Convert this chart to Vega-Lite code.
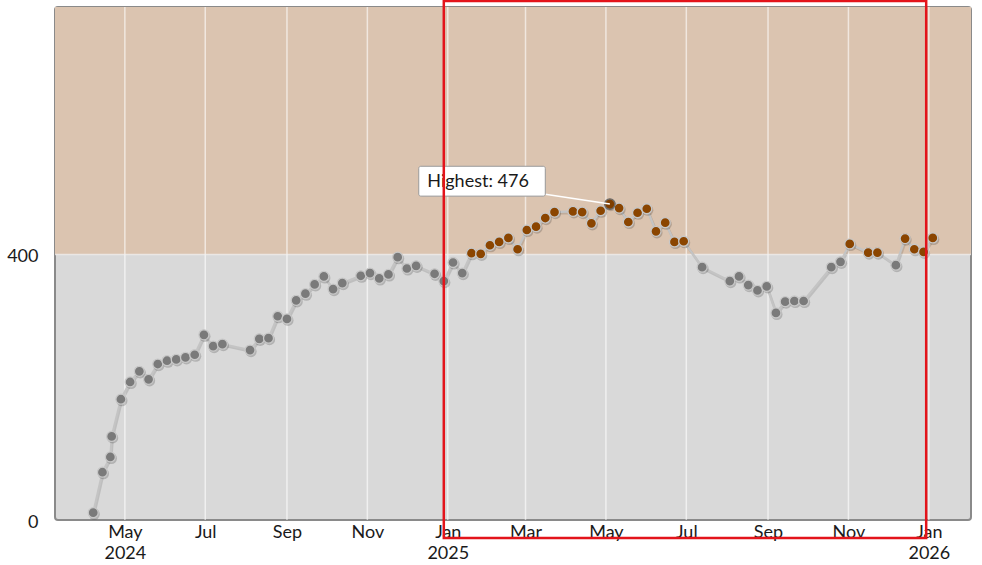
{
  "$schema": "https://vega.github.io/schema/vega-lite/v6.json",
  "width": 916,
  "height": 513,
  "autosize": {"type": "none"},
  "padding": {"left": 55, "top": 7, "right": 11, "bottom": 45},
  "config": {
    "font": "Lato",
    "view": {"stroke": "#8a8a8a", "strokeWidth": 2, "cornerRadius": 3, "fill": "#d9d9d9"},
    "axis": {"labelFont": "Lato", "labelFontSize": 18, "labelColor": "#1a1a1a", "grid": false, "domain": false, "ticks": false, "title": null}
  },
  "datasets": {
    "series": [
      {"date": "2024-04-07", "value": 11},
      {"date": "2024-04-14", "value": 72},
      {"date": "2024-04-20", "value": 95},
      {"date": "2024-04-21", "value": 126},
      {"date": "2024-04-28", "value": 182},
      {"date": "2024-05-05", "value": 208},
      {"date": "2024-05-12", "value": 224},
      {"date": "2024-05-19", "value": 212},
      {"date": "2024-05-26", "value": 235},
      {"date": "2024-06-02", "value": 240},
      {"date": "2024-06-09", "value": 242},
      {"date": "2024-06-16", "value": 245},
      {"date": "2024-06-23", "value": 249},
      {"date": "2024-06-30", "value": 279},
      {"date": "2024-07-07", "value": 262},
      {"date": "2024-07-14", "value": 265},
      {"date": "2024-08-04", "value": 256},
      {"date": "2024-08-11", "value": 273},
      {"date": "2024-08-18", "value": 274},
      {"date": "2024-08-25", "value": 307},
      {"date": "2024-09-01", "value": 303},
      {"date": "2024-09-08", "value": 331},
      {"date": "2024-09-15", "value": 341},
      {"date": "2024-09-22", "value": 355},
      {"date": "2024-09-29", "value": 367},
      {"date": "2024-10-06", "value": 348},
      {"date": "2024-10-13", "value": 357},
      {"date": "2024-10-27", "value": 368},
      {"date": "2024-11-03", "value": 372},
      {"date": "2024-11-10", "value": 364},
      {"date": "2024-11-17", "value": 370},
      {"date": "2024-11-24", "value": 396},
      {"date": "2024-12-01", "value": 379},
      {"date": "2024-12-08", "value": 383},
      {"date": "2024-12-22", "value": 371},
      {"date": "2024-12-29", "value": 360},
      {"date": "2025-01-05", "value": 388},
      {"date": "2025-01-12", "value": 372},
      {"date": "2025-01-19", "value": 402},
      {"date": "2025-01-26", "value": 401},
      {"date": "2025-02-02", "value": 414},
      {"date": "2025-02-09", "value": 419},
      {"date": "2025-02-16", "value": 425},
      {"date": "2025-02-23", "value": 408},
      {"date": "2025-03-02", "value": 437},
      {"date": "2025-03-09", "value": 442},
      {"date": "2025-03-16", "value": 455},
      {"date": "2025-03-23", "value": 464},
      {"date": "2025-04-06", "value": 465},
      {"date": "2025-04-13", "value": 464},
      {"date": "2025-04-20", "value": 447},
      {"date": "2025-04-27", "value": 466},
      {"date": "2025-05-04", "value": 476},
      {"date": "2025-05-11", "value": 470},
      {"date": "2025-05-18", "value": 449},
      {"date": "2025-05-25", "value": 463},
      {"date": "2025-06-01", "value": 469},
      {"date": "2025-06-08", "value": 435},
      {"date": "2025-06-15", "value": 448},
      {"date": "2025-06-22", "value": 419},
      {"date": "2025-06-29", "value": 420},
      {"date": "2025-07-13", "value": 381},
      {"date": "2025-08-03", "value": 360},
      {"date": "2025-08-10", "value": 367},
      {"date": "2025-08-17", "value": 354},
      {"date": "2025-08-24", "value": 346},
      {"date": "2025-08-31", "value": 352},
      {"date": "2025-09-07", "value": 312},
      {"date": "2025-09-14", "value": 329},
      {"date": "2025-09-21", "value": 330},
      {"date": "2025-09-28", "value": 330},
      {"date": "2025-10-19", "value": 381},
      {"date": "2025-10-26", "value": 389},
      {"date": "2025-11-02", "value": 416},
      {"date": "2025-11-16", "value": 403},
      {"date": "2025-11-23", "value": 403},
      {"date": "2025-12-07", "value": 384},
      {"date": "2025-12-14", "value": 424},
      {"date": "2025-12-21", "value": 408},
      {"date": "2025-12-28", "value": 404},
      {"date": "2026-01-04", "value": 425}
    ],
    "gridMonths": [
      {"date": "2024-05-01"}, {"date": "2024-07-01"}, {"date": "2024-09-01"}, {"date": "2024-11-01"},
      {"date": "2025-01-01"}, {"date": "2025-03-01"}, {"date": "2025-05-01"}, {"date": "2025-07-01"},
      {"date": "2025-09-01"}, {"date": "2025-11-01"}, {"date": "2026-01-01"}
    ],
    "band": [{"from": 400, "to": 773}],
    "peak": [{"date": "2025-05-04", "value": 476}],
    "label": [{"start": "2024-12-10", "end": "2025-03-16", "mid": "2025-01-24", "top": 533, "bottom": 488, "center": 510, "text": "Highest: 476"}],
    "connector": [{"from": "2025-03-16", "fromValue": 491, "to": "2025-05-04", "toValue": 476}],
    "highlight": [{"start": "2024-12-29", "end": "2025-12-30", "top": 782, "bottom": -27}]
  },
  "layer": [
    {
      "data": {"name": "band"},
      "mark": {"type": "rect", "color": "#dbc4b0"},
      "encoding": {
        "y": {"field": "from", "type": "quantitative", "scale": {"domain": [0, 773], "nice": false, "zero": true},
              "axis": {"values": [0, 400], "labelPadding": 17, "labelOffset": 2}},
        "y2": {"field": "to"}
      }
    },
    {
      "data": {"name": "gridMonths"},
      "mark": {"type": "rule", "color": "#ffffff", "strokeWidth": 1.5, "opacity": 0.6},
      "encoding": {
        "x": {"field": "date", "type": "temporal"}
      }
    },
    {
      "data": {"name": "band"},
      "mark": {"type": "rule", "color": "#f2f2f2", "strokeWidth": 1.5, "opacity": 0.7},
      "encoding": {
        "y": {"field": "from", "type": "quantitative"}
      }
    },
    {
      "data": {"name": "series"},
      "mark": {"type": "line", "color": "#000000", "opacity": 0.12, "strokeWidth": 2.5, "xOffset": 1, "yOffset": 1.5},
      "encoding": {
        "x": {"field": "date", "type": "temporal"},
        "y": {"field": "value", "type": "quantitative"}
      }
    },
    {
      "data": {"name": "series"},
      "mark": {"type": "line", "color": "#c4c4c4", "strokeWidth": 2.2},
      "encoding": {
        "x": {"field": "date", "type": "temporal",
              "scale": {"domain": [{"year": 2024, "month": 3, "date": 9}, {"year": 2026, "month": 2, "date": 2}], "nice": false},
              "axis": {"tickCount": {"interval": "month", "step": 2}, "labelPadding": 3, "labelLineHeight": 21,
                       "labelExpr": "(month(datum.value) == 0 || datum.index == 0) ? [timeFormat(datum.value, '%b'), timeFormat(datum.value, '%Y')] : timeFormat(datum.value, '%b')"}},
        "y": {"field": "value", "type": "quantitative"}
      }
    },
    {
      "data": {"name": "series"},
      "mark": {"type": "point", "filled": true, "size": 125, "color": "#000000", "opacity": 0.18, "xOffset": 1, "yOffset": 1.5},
      "encoding": {
        "x": {"field": "date", "type": "temporal"},
        "y": {"field": "value", "type": "quantitative"}
      }
    },
    {
      "data": {"name": "series"},
      "mark": {"type": "point", "filled": true, "size": 100, "opacity": 1, "stroke": "#c8c8c8", "strokeWidth": 1.3},
      "encoding": {
        "x": {"field": "date", "type": "temporal"},
        "y": {"field": "value", "type": "quantitative"},
        "color": {"condition": {"test": "datum.value > 400", "value": "#8b4500"}, "value": "#7a7a7a"}
      }
    },
    {
      "data": {"name": "peak"},
      "mark": {"type": "point", "filled": true, "size": 110, "color": "#7a3c00", "stroke": "#444444", "strokeWidth": 1.3},
      "encoding": {
        "x": {"field": "date", "type": "temporal"},
        "y": {"field": "value", "type": "quantitative"}
      }
    },
    {
      "data": {"name": "connector"},
      "mark": {"type": "rule", "color": "#ffffff", "strokeWidth": 1.5},
      "encoding": {
        "x": {"field": "from", "type": "temporal"},
        "x2": {"field": "to"},
        "y": {"field": "fromValue", "type": "quantitative"},
        "y2": {"field": "toValue"}
      }
    },
    {
      "data": {"name": "label"},
      "mark": {"type": "rect", "fill": "#000000", "opacity": 0.15, "cornerRadius": 2, "xOffset": 1.5, "yOffset": 2},
      "encoding": {
        "x": {"field": "start", "type": "temporal"},
        "x2": {"field": "end"},
        "y": {"field": "top", "type": "quantitative"},
        "y2": {"field": "bottom"}
      }
    },
    {
      "data": {"name": "label"},
      "mark": {"type": "rect", "fill": "#ffffff", "stroke": "#9a9a9a", "strokeWidth": 1, "cornerRadius": 2},
      "encoding": {
        "x": {"field": "start", "type": "temporal"},
        "x2": {"field": "end"},
        "y": {"field": "top", "type": "quantitative"},
        "y2": {"field": "bottom"}
      }
    },
    {
      "data": {"name": "label"},
      "mark": {"type": "text", "font": "Lato", "fontSize": 18, "color": "#1a1a1a", "align": "center", "baseline": "middle"},
      "encoding": {
        "x": {"field": "mid", "type": "temporal"},
        "y": {"field": "center", "type": "quantitative"},
        "text": {"field": "text"}
      }
    },
    {
      "data": {"name": "highlight"},
      "mark": {"type": "rect", "fill": null, "fillOpacity": 0, "stroke": "#e3141b", "strokeWidth": 2.5, "clip": false},
      "encoding": {
        "x": {"field": "start", "type": "temporal"},
        "x2": {"field": "end"},
        "y": {"field": "top", "type": "quantitative"},
        "y2": {"field": "bottom"}
      }
    }
  ]
}
